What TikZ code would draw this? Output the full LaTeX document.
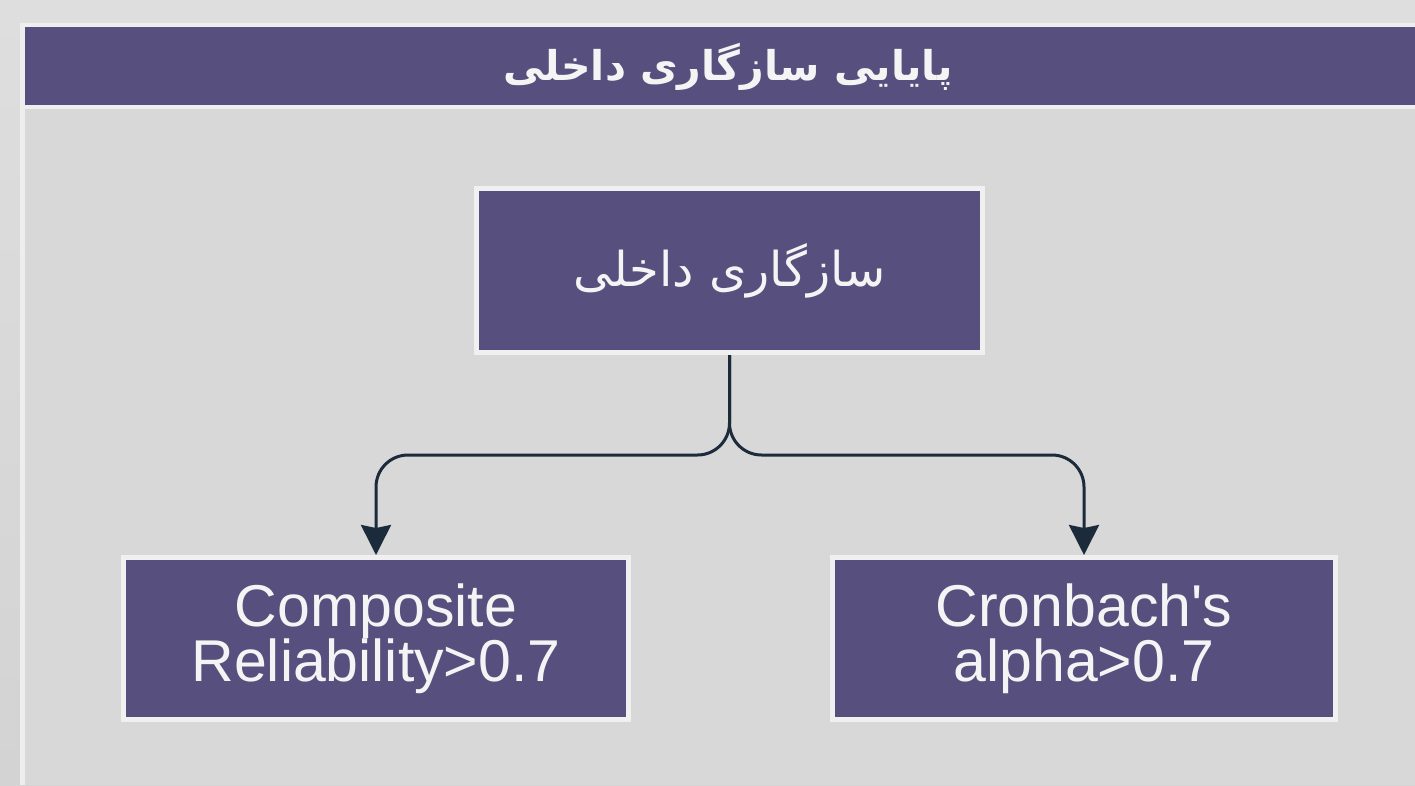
\documentclass[tikz,border=0pt]{standalone}
\usepackage{fontspec}
\setmainfont{Liberation Sans}
\newfontfamily\arabicfont[Script=Arabic]{DejaVu Sans}
\TeXXeTstate=1
\usetikzlibrary{arrows.meta}
\definecolor{bgtop}{HTML}{DEDEDE}
\definecolor{bgbot}{HTML}{D3D3D3}
\definecolor{framecol}{HTML}{EEEEEE}
\definecolor{boxfill}{HTML}{57507E}
\definecolor{boxline}{HTML}{F0F0F0}
\definecolor{wire}{HTML}{1B2B3B}
\definecolor{txt}{HTML}{F4F4F4}
\tikzset{
  box/.style={draw=boxline, line width=5pt, fill=boxfill, inner sep=0pt,
    align=center, text=txt},
  wirearrow/.style={draw=wire, line width=3pt, rounded corners=32pt,
    -{Stealth[length=30pt,width=30pt,inset=3pt]}},
}
\begin{document}
\begin{tikzpicture}[x=1pt,y=-1pt]
  \useasboundingbox (0,0) rectangle (1415,785);
  % background
  \shade[top color=bgtop, bottom color=bgbot] (0,0) rectangle (1415,785);
  % outer frame and title band
  \fill[framecol] (20,23) rectangle (1415,785);
  \fill[bgbot!50!bgtop] (25,109) rectangle (1415,785);
  \fill[boxfill] (25,27) rectangle (1415,105);
  \node[text=txt, font=\arabicfont\bfseries\fontsize{41}{48}\selectfont] (title) at (728,67)
    {\beginR پایایی سازگاری داخلی\endR};
  % boxes
  \node[box, minimum width=506pt, minimum height=164pt,
        font=\arabicfont\fontsize{48}{54}\selectfont] (top) at (729.5,270.5)
    {\beginR سازگاری داخلی\endR};
  \node[box, minimum width=505pt, minimum height=162pt,
        font=\fontsize{59}{55}\selectfont] (cr) at (376,638.5)
    {Composite\\Reliability>0.7};
  \node[box, minimum width=503pt, minimum height=162pt,
        font=\fontsize{59}{55}\selectfont] (ca) at (1084,638.5)
    {Cronbach\textquotesingle s\\alpha>0.7};
  % connectors
  \draw[wirearrow] (top.south) |- (cr.north |- 0,455) -- (cr.north);
  \draw[wirearrow] (top.south) |- (ca.north |- 0,455) -- (ca.north);
\end{tikzpicture}
\end{document}
